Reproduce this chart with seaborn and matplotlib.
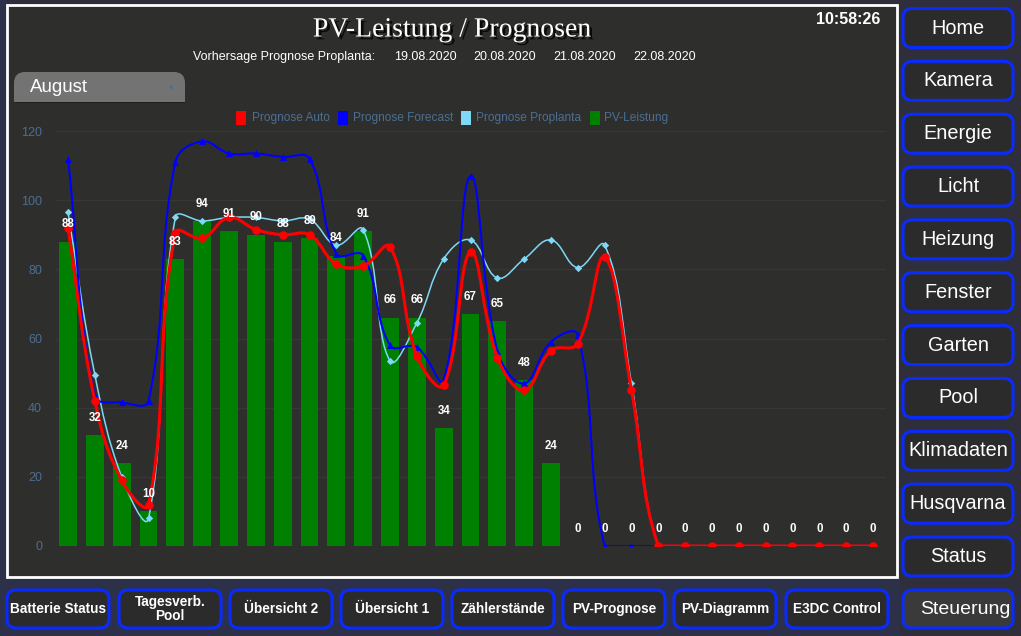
import numpy as np
import pandas as pd
import matplotlib
matplotlib.use("Agg")
import matplotlib.pyplot as plt
import seaborn as sns
from matplotlib.patches import FancyBboxPatch, Rectangle, PathPatch
from matplotlib.path import Path
import matplotlib.patheffects as pe

# ---------------- data ----------------
days = [str(d) for d in range(1, 32)]
pv_leistung = [88, 32, 24, 10, 83, 94, 91, 90, 88, 89, 84, 91, 66, 66, 34, 67, 65, 48, 24,
               0, 0, 0, 0, 0, 0, 0, 0, 0, 0, 0, 0]
prognose_auto = [92, 42, 19, 12, 90.5, 89, 95, 91.5, 90, 90, 81.5, 81, 86.5, 55, 46.5, 85,
                 54.5, 45, 56.5, 58.5, 83.5, 45, 0, 0, 0, 0, 0, 0, 0, 0, 0]
prognose_forecast = [112, 43.5, 41.5, 42, 111, 117, 113.5, 113.5, 112.5, 112, 84.5, 84, 58,
                     57.5, 48, 107, 56.5, 47, 59, 61, 0, 0, 0, 0, 0, 0, 0, 0, 0, 0, 0]
prognose_proplanta = [96.5, 49.5, 20, 8, 95, 94, 95, 95, 94, 94.5, 87, 91.5, 53.5, 64.5, 83,
                      88.5, 77.5, 83, 88.5, 80.5, 87, 47, 0, 0, 0, 0, 0, 0, 0, 0, 0]
legend_labels = ["Prognose Auto", "Prognose Forecast", "Prognose Proplanta", "PV-Leistung"]
y_ticks = [0, 20, 40, 60, 80, 100, 120]
title = "PV-Leistung / Prognosen"
subtitle_label = "Vorhersage Prognose Proplanta:"
forecast_dates = ["19.08.2020", "20.08.2020", "21.08.2020", "22.08.2020"]
clock = "10:58:26"
month = "August"
side_buttons = ["Home", "Kamera", "Energie", "Licht", "Heizung", "Fenster", "Garten",
                "Pool", "Klimadaten", "Husqvarna", "Status"]
bottom_buttons = ["Batterie Status", "Tagesverb.\nPool", "Übersicht 2", "Übersicht 1",
                  "Zählerstände", "PV-Prognose", "PV-Diagramm", "E3DC Control"]
active_button = "Steuerung"

# ---------------- style ----------------
plt.rcParams['font.family'] = ['Liberation Sans', 'DejaVu Sans']
W, H = 1021, 636
fig = plt.figure(figsize=(W / 100, H / 100), dpi=100)
fig.patch.set_facecolor('#2f2f3b')

ui = fig.add_axes([0, 0, 1, 1])
ui.set_xlim(0, W)
ui.set_ylim(H, 0)
ui.axis('off')

# bottom textured strip (approximated as solid)
ui.add_patch(Rectangle((0, 577), 900, 59, facecolor='#2c3149', edgecolor='none', zorder=0))
ui.add_patch(Rectangle((0, 0), 7, 636, facecolor='#2c3149', edgecolor='none', zorder=0))

# chart panel
ui.add_patch(Rectangle((7, 5), 890, 572, facecolor='#2e2f2d', edgecolor='white', lw=2, zorder=1))

# title
ui.text(452, 36.5, title, family=['Liberation Serif', 'DejaVu Serif'], fontsize=20,
        color='white', ha='center', va='baseline', zorder=3,
        path_effects=[pe.withSimplePatchShadow(offset=(2, -2), shadow_rgbFace='black', alpha=0.8)])
ui.text(848, 20, clock, fontsize=11.5, fontweight='bold', color='white', ha='center',
        va='center', zorder=3)
ui.text(193, 57, subtitle_label, fontsize=9, color='white', ha='left', va='center', zorder=3)
for xs, d in zip([394, 473.5, 553, 633], forecast_dates):
    ui.text(xs, 57, d, fontsize=9, color='white', ha='left', va='center', zorder=3)

# month tab
ui.add_patch(FancyBboxPatch((14, 72), 171, 29.5, boxstyle='round,pad=0,rounding_size=11',
                            facecolor='#737373', edgecolor='none', zorder=2))
ui.add_patch(Rectangle((14, 88), 171, 13.5, facecolor='#737373', edgecolor='none', zorder=2))
ui.add_patch(Rectangle((14, 101.5), 171, 1.5, facecolor='#1e1f1e', edgecolor='none', zorder=2))
ui.text(30, 87, month, fontsize=13.5, color='white', ha='left', va='center', zorder=3)
ui.text(171, 87, '▾', fontsize=6, color='#4b6e93', ha='center', va='center', zorder=3,
        family=['DejaVu Sans'])

# legend
leg_colors = ['#ff0000', '#0000ff', '#7fd8f5', '#008000']
leg_sq = [236, 337.5, 461, 589.5]
leg_tx = [252, 352.5, 475.5, 604]
for c, sx, tx, lab in zip(leg_colors, leg_sq, leg_tx, legend_labels):
    ui.add_patch(Rectangle((sx, 111), 10, 13.5, facecolor=c, edgecolor='none', zorder=3))
    ui.text(tx, 117.5, lab, fontsize=8.6, color='#4b6e93', ha='left', va='center', zorder=3)

# side buttons
def button(x0, y0, w, h, label, fs, weight='normal', face='#2b2b2b', tx=None):
    ui.add_patch(FancyBboxPatch((x0, y0), w, h, boxstyle='round,pad=0,rounding_size=9',
                                facecolor=face, edgecolor='#0a2bff', lw=2.2, zorder=2))
    ui.text(tx if tx is not None else x0 + w / 2, y0 + h / 2, label, fontsize=fs,
            fontweight=weight, color='white', ha='center', va='center', zorder=3,
            linespacing=1.0)

for i, lab in enumerate(side_buttons):
    button(903, 8.5 + i * 52.85, 110, 39, lab, 14.3)
button(903, 590, 110, 38, active_button, 14, face='#3a3a3a', tx=965)

bx = [7, 119, 230, 341, 452, 563, 674, 786]
for x0, lab in zip(bx, bottom_buttons):
    button(x0, 590, 102, 38, lab, 9.8, weight='bold')

# ---------------- chart ----------------
left_px, right_px, top_px, bot_px = 54.6, 886.4, 131, 546
ax = fig.add_axes([left_px / W, (H - bot_px) / H, (right_px - left_px) / W,
                   (bot_px - top_px) / H])
ax.set_zorder(5)
ax.patch.set_alpha(0)

df = pd.DataFrame({'day': days, 'pv': pv_leistung})
sns.barplot(data=df, x='day', y='pv', order=days, color='#008000', saturation=1,
            width=0.66, ax=ax, zorder=2)

xi = np.arange(len(days), dtype=float)
sx_px = (right_px - left_px) / len(days)
sy_px = (bot_px - top_px) / 120.0


def chart_curve(xs, ys, tension=0.4):
    """Chart.js style bezier spline built from the data points (data coordinates)."""
    n = len(xs)
    P = np.column_stack([xs, ys]).astype(float)
    cp_prev = P.copy()
    cp_next = P.copy()
    for i in range(n):
        p0 = P[max(i - 1, 0)]
        p1 = P[i]
        p2 = P[min(i + 1, n - 1)]
        d01 = np.hypot((p1[0] - p0[0]) * sx_px, (p1[1] - p0[1]) * sy_px)
        d12 = np.hypot((p2[0] - p1[0]) * sx_px, (p2[1] - p1[1]) * sy_px)
        tot = d01 + d12
        s01 = d01 / tot if tot else 0
        s12 = d12 / tot if tot else 0
        fa, fb = tension * s01, tension * s12
        cp_prev[i] = p1 - fa * (p2 - p0)
        cp_next[i] = p1 + fb * (p2 - p0)
    cp_prev[:, 1] = np.clip(cp_prev[:, 1], 0, 120)
    cp_next[:, 1] = np.clip(cp_next[:, 1], 0, 120)
    verts = [tuple(P[0])]
    codes = [Path.MOVETO]
    for i in range(n - 1):
        verts += [tuple(cp_next[i]), tuple(cp_prev[i + 1]), tuple(P[i + 1])]
        codes += [Path.CURVE4] * 3
    return Path(verts, codes)


series = [
    (prognose_proplanta, '#7fd8f5', 1.1, 'D', 14, 3),
    (prognose_forecast, '#0000ff', 1.5, '^', 26, 4),
    (prognose_auto, '#ff0000', 2.2, 'o', 38, 5),
]
for vals, col, lw, mk, ms, z in series:
    ax.add_patch(PathPatch(chart_curve(xi, vals), facecolor='none', edgecolor=col, lw=lw,
                           zorder=z, capstyle='round', joinstyle='round'))
    sns.scatterplot(x=xi, y=vals, marker=mk, s=ms, color=col, edgecolor=col, linewidth=0,
                    ax=ax, zorder=z, legend=False)

for i, v in enumerate(pv_leistung):
    ax.annotate(f"{v:g}", (i, v), xytext=(0, 12.5), textcoords='offset points',
                ha='center', va='center', fontsize=8.3, fontweight='bold', color='white',
                zorder=8, annotation_clip=False)

ax.set_xlim(-0.5, len(days) - 0.5)
ax.set_ylim(0, 120)
ax.set_yticks(y_ticks)
ax.set_yticklabels([str(t) for t in y_ticks], color='#4b6e93', fontsize=9)
ax.tick_params(axis='y', length=0, pad=9)
ax.tick_params(axis='x', length=0, labelbottom=False)
ax.set_xlabel('')
ax.set_ylabel('')
ax.grid(axis='y', color='#373836', lw=1, zorder=0)
ax.grid(axis='x', visible=False)
ax.set_axisbelow(True)
for s in ax.spines.values():
    s.set_visible(False)

fig.savefig('out.png', dpi=100, facecolor=fig.get_facecolor())
